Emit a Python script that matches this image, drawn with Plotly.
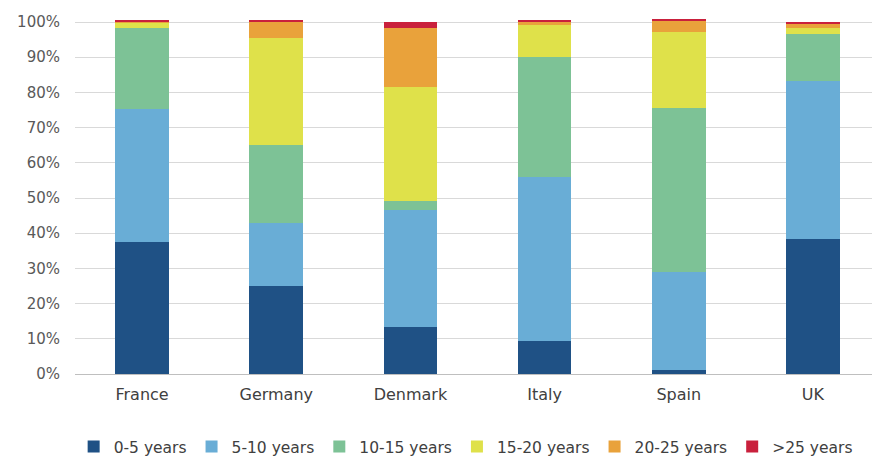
import plotly.graph_objects as go

countries = ["France", "Germany", "Denmark", "Italy", "Spain", "UK"]
series_names = ["0-5 years", "5-10 years", "10-15 years", "15-20 years", "20-25 years", ">25 years"]
s_0_5 = [37.5, 25.0, 13.4, 9.4, 1.1, 38.4]
s_5_10 = [37.8, 17.9, 33.2, 46.6, 27.9, 44.8]
s_10_15 = [23.0, 22.2, 2.5, 34.1, 46.6, 13.4]
s_15_20 = [1.7, 30.4, 32.4, 9.0, 21.6, 1.8]
s_20_25 = [0.2, 4.6, 16.8, 0.9, 3.0, 1.0]
s_25p = [0.5, 0.6, 1.7, 0.6, 0.6, 0.7]
colors = ["#1f5185", "#69add6", "#7dc296", "#dfe14a", "#e9a23b", "#c9203c"]
y_ticks = [0, 10, 20, 30, 40, 50, 60, 70, 80, 90, 100]

values = [s_0_5, s_5_10, s_10_15, s_15_20, s_20_25, s_25p]

font_family = "DejaVu Sans, sans-serif"
fig = go.Figure()
for name, vals, col in zip(series_names, values, colors):
    fig.add_trace(go.Bar(
        x=countries, y=vals, name=name,
        marker=dict(color=col, line=dict(width=0)),
        width=0.40,
    ))

fig.update_layout(
    barmode="stack",
    width=872, height=457,
    margin=dict(l=75, r=0, t=15, b=83, autoexpand=False),
    plot_bgcolor="white", paper_bgcolor="white",
    font=dict(family=font_family, color="#595959", size=14),
    showlegend=True,
    legend=dict(
        orientation="h", xref="container", x=0.534, xanchor="center",
        yref="container", y=0.022, yanchor="middle",
        font=dict(size=15.5, color="#404040"),
        traceorder="normal", itemwidth=30,
    ),
)
fig.update_yaxes(
    range=[0, 102], tickvals=y_ticks,
    ticktext=[f"{v}%" for v in y_ticks],
    showgrid=True, gridcolor="#d9d9d9", gridwidth=1,
    zeroline=False, showline=False,
    tickfont=dict(size=15, color="#595959"),
    ticklabelstandoff=14,
)
fig.update_xaxes(
    range=[-0.5, 5.44],
    showline=True, linecolor="#bfbfbf", linewidth=1,
    tickfont=dict(size=16, color="#404040"),
    ticks="", ticklabelstandoff=6,
)
fig.write_html("out.html")
